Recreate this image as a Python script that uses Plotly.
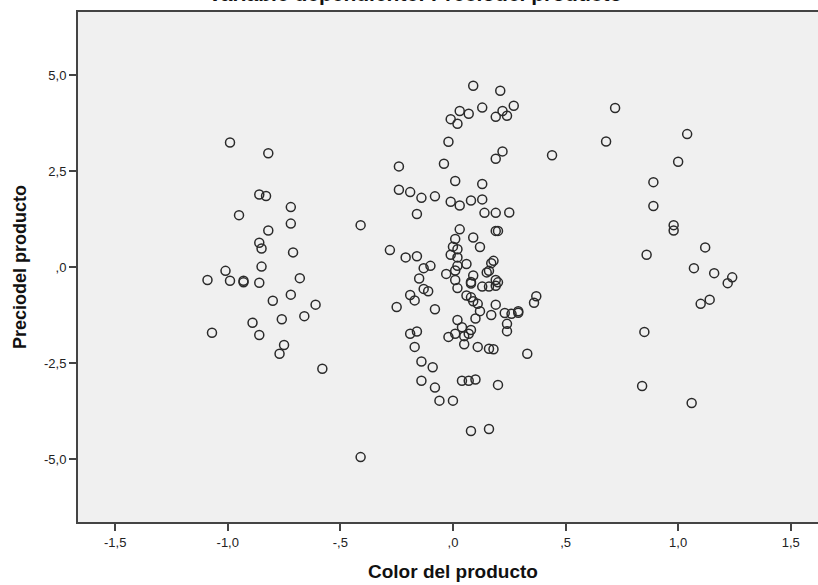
import plotly.graph_objects as go

# Partial regression plot: x = Color del producto (residual), y = Precio del producto (residual)
color_left = [-0.99, -0.82, -0.86, -0.83, -0.72, -0.95, -0.72, -0.82, -0.86, -0.85,
              -0.71, -0.85, -1.01, -1.09, -0.99, -0.93, -0.93, -0.86, -0.68, -0.72,
              -0.80, -0.61, -0.89, -0.76, -0.66, -1.07, -0.86, -0.75, -0.77, -0.58,
              -0.41, -0.41]
precio_left = [3.24, 2.96, 1.89, 1.85, 1.56, 1.35, 1.13, 0.95, 0.63, 0.48,
               0.38, 0.01, -0.10, -0.34, -0.36, -0.36, -0.40, -0.41, -0.29, -0.72,
               -0.88, -0.98, -1.45, -1.36, -1.28, -1.71, -1.77, -2.03, -2.26, -2.65,
               -4.95, 1.09]

color_mid = [0.09, 0.21, 0.13, 0.27, 0.03, 0.07, -0.01, 0.02, 0.19, 0.22,
             0.24, -0.02, 0.22, 0.19, 0.44, -0.24, -0.04, 0.01, 0.13, -0.24,
             -0.19, -0.14, -0.08, -0.01, 0.03, 0.08, 0.13, 0.14, 0.19, 0.25,
             -0.16, 0.03, 0.19, 0.20, 0.01, 0.09, 0.12,
             -0.28, -0.21, -0.16, 0.00, 0.02, -0.01, 0.02, 0.06, -0.13, -0.10,
             -0.03, 0.01, 0.02, 0.17, 0.18, 0.15, 0.16, -0.15, 0.01, 0.09,
             0.08, 0.08, 0.19, 0.20, 0.19, 0.13, 0.16, 0.02, -0.13, -0.11,
             -0.19, -0.17, 0.06, 0.08, 0.09, 0.11, 0.12, -0.25, -0.08, 0.19,
             0.37, 0.36, 0.23, 0.26, 0.29, 0.29, 0.17, 0.10, 0.02, 0.24,
             0.24, 0.04, 0.08, 0.07, 0.05, 0.01, -0.02, -0.19, -0.16, 0.05,
             0.11, 0.16, 0.18, -0.17, 0.33, -0.14, -0.09, -0.14, -0.08, 0.04,
             0.07, 0.10, 0.20, -0.06, 0.00, 0.08, 0.16]
precio_mid = [4.72, 4.59, 4.15, 4.20, 4.06, 3.99, 3.85, 3.73, 3.91, 4.06,
              3.94, 3.26, 3.01, 2.82, 2.91, 2.62, 2.69, 2.24, 2.16, 2.01,
              1.95, 1.80, 1.84, 1.70, 1.60, 1.73, 1.76, 1.41, 1.41, 1.42,
              1.38, 0.98, 0.94, 0.94, 0.73, 0.77, 0.52,
              0.44, 0.25, 0.28, 0.53, 0.46, 0.32, 0.25, 0.08, -0.03, 0.03,
              -0.18, -0.09, 0.03, 0.10, 0.16, -0.14, -0.10, -0.30, -0.34, -0.22,
              -0.39, -0.43, -0.34, -0.40, -0.49, -0.51, -0.51, -0.55, -0.57, -0.63,
              -0.73, -0.87, -0.74, -0.79, -0.89, -0.96, -1.15, -1.04, -1.10, -0.98,
              -0.76, -0.93, -1.20, -1.22, -1.15, -1.19, -1.25, -1.34, -1.38, -1.48,
              -1.67, -1.57, -1.64, -1.74, -1.80, -1.74, -1.82, -1.74, -1.68, -2.01,
              -2.08, -2.13, -2.14, -2.08, -2.26, -2.46, -2.61, -2.96, -3.14, -2.96,
              -2.96, -2.93, -3.07, -3.48, -3.48, -4.27, -4.22]

color_right = [0.72, 0.68, 1.04, 1.00, 0.89, 0.89, 0.98, 0.98, 1.12, 0.86,
               1.07, 1.16, 1.24, 1.22, 1.14, 1.10, 0.85, 0.84, 1.06]
precio_right = [4.14, 3.27, 3.46, 2.74, 2.21, 1.59, 1.09, 0.95, 0.51, 0.32,
                -0.03, -0.16, -0.27, -0.42, -0.85, -0.96, -1.69, -3.10, -3.54]

x_tickvals = [-1.5, -1.0, -0.5, 0.0, 0.5, 1.0, 1.5]
x_ticktext = ["-1,5", "-1,0", "-,5", ",0", ",5", "1,0", "1,5"]
y_tickvals = [-5.0, -2.5, 0.0, 2.5, 5.0]
y_ticktext = ["-5,0", "-2,5", ",0", "2,5", "5,0"]

title_text = "Variable dependiente: Preciodel producto"
x_title = "Color del producto"
y_title = "Preciodel producto"

xs = color_left + color_mid + color_right
ys = precio_left + precio_mid + precio_right

FONT = "Liberation Sans, Arial, sans-serif"
LINE = "#444444"

fig = go.Figure()
fig.add_trace(go.Scatter(
    x=xs, y=ys, mode="markers",
    marker=dict(symbol="circle-open", size=9, color="#2a2a2a",
                line=dict(width=1.5, color="#2a2a2a")),
    hoverinfo="x+y", showlegend=False,
))

fig.update_layout(
    width=818, height=585,
    margin=dict(l=78, r=0, t=12, b=63),
    paper_bgcolor="white",
    plot_bgcolor="#F0F0F0",
    showlegend=False,
    xaxis=dict(
        range=[-1.665, 1.621], tickvals=x_tickvals, ticktext=x_ticktext,
        ticks="outside", ticklen=7, tickwidth=1.5, tickcolor=LINE,
        showline=True, linecolor=LINE, linewidth=2, mirror=True,
        showgrid=False, zeroline=False,
        tickfont=dict(family=FONT, size=13, color="#222222"),
    ),
    yaxis=dict(
        range=[-6.64, 6.64], tickvals=y_tickvals, ticktext=y_ticktext,
        ticks="outside", ticklen=7, tickwidth=1.5, tickcolor=LINE,
        showline=True, linecolor=LINE, linewidth=2, mirror=False,
        showgrid=False, zeroline=False,
        tickfont=dict(family=FONT, size=13, color="#222222"),
    ),
    annotations=[
        dict(text="<b>" + title_text + "</b>", xref="paper", yref="paper",
             x=0.455, y=1.0 + 5 / 510, xanchor="center", yanchor="bottom",
             showarrow=False, font=dict(family=FONT, size=21, color="#111111")),
        dict(text="<b>" + x_title + "</b>", xref="paper", yref="paper",
             x=(453 - 78) / 740, y=(522 - 571) / 510, xanchor="center", yanchor="middle",
             showarrow=False, font=dict(family=FONT, size=19, color="#111111")),
        dict(text="<b>" + y_title + "</b>", xref="paper", yref="paper",
             x=(20 - 78) / 740, y=0.5, xanchor="center", yanchor="middle",
             textangle=-90, showarrow=False,
             font=dict(family=FONT, size=18, color="#111111")),
    ],
)

fig.write_html("out.html")
